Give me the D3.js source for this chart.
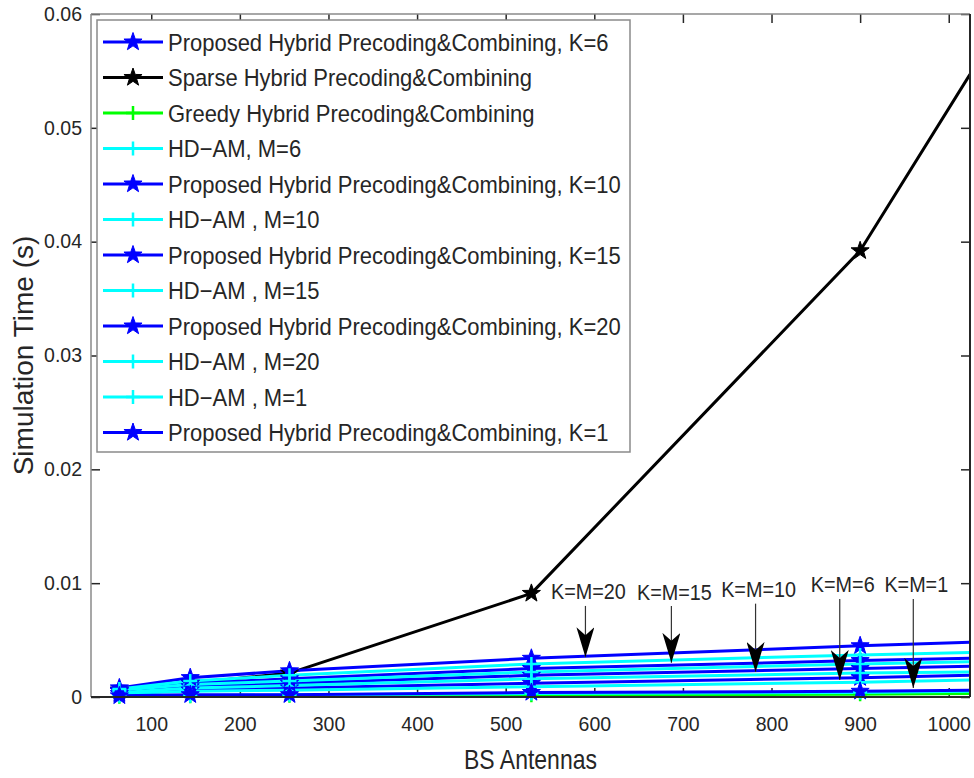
<!DOCTYPE html>
<html>
<head>
<meta charset="utf-8">
<script src="https://cdn.jsdelivr.net/npm/d3@7"></script>
<style>
  body { margin: 0; background: #fff; }
  text { font-family: "Liberation Sans", Arial, Helvetica, sans-serif; fill: #262626; }
</style>
</head>
<body>
<svg id="chart" width="974" height="778"></svg>
<script>
// BS antenna counts (x) and simulation times (s)
const antennas = [64, 144, 256, 529, 900, 1024];

const proposedK6  = [0.0003, 0.0006, 0.0008, 0.0012, 0.0017, 0.0019];
const sparse      = [0.0006, 0.0012, 0.0021, 0.0091, 0.0392, 0.0547];
const greedy      = [0.00003, 0.00006, 0.0001, 0.00015, 0.00025, 0.0003];
const hdamM6      = [0.0003, 0.0005, 0.0006, 0.0009, 0.0013, 0.0015];
const proposedK10 = [0.0005, 0.0009, 0.0012, 0.0019, 0.0025, 0.0027];
const hdamM10     = [0.0004, 0.0008, 0.0010, 0.0016, 0.0021, 0.0022];
const proposedK15 = [0.0006, 0.0012, 0.0016, 0.0025, 0.0032, 0.0034];
const hdamM15     = [0.0006, 0.0011, 0.0014, 0.0022, 0.0029, 0.0031];
const proposedK20 = [0.0008, 0.0017, 0.0023, 0.0034, 0.0045, 0.0048];
const hdamM20     = [0.0007, 0.0014, 0.0019, 0.0029, 0.0037, 0.0039];
const hdamM1      = [0.0001, 0.0001, 0.0002, 0.0003, 0.0004, 0.0005];
const proposedK1  = [0.0001, 0.0002, 0.0002, 0.0004, 0.0005, 0.0006];

const xTicks = [100, 200, 300, 400, 500, 600, 700, 800, 900, 1000];
const yTicks = [0, 0.01, 0.02, 0.03, 0.04, 0.05, 0.06];

// annotations: label, arrow x, arrow tip y (data units)
const noteLabels = ["K=M=20", "K=M=15", "K=M=10", "K=M=6", "K=M=1"];
const noteX      = [590, 687, 782, 877, 960];
const noteTip    = [0.0035, 0.0030, 0.0022, 0.0015, 0.0008];
const noteTop    = [0.0080, 0.0080, 0.0082, 0.0086, 0.0086];
const noteText   = [0.0086, 0.0085, 0.0088, 0.0092, 0.0092];

const BLUE = "#0000ff", CYAN = "#00ffff", GREEN = "#00ff00", BLACK = "#000000";

const series = [
  { name: "Proposed Hybrid Precoding&Combining, K=6",  values: proposedK6,  color: BLUE,  marker: "star" },
  { name: "Sparse Hybrid Precoding&Combining",         values: sparse,      color: BLACK, marker: "star" },
  { name: "Greedy Hybrid Precoding&Combining",         values: greedy,      color: GREEN, marker: "plus" },
  { name: "HD\u2212AM, M=6",                           values: hdamM6,      color: CYAN,  marker: "plus" },
  { name: "Proposed Hybrid Precoding&Combining, K=10", values: proposedK10, color: BLUE,  marker: "star" },
  { name: "HD\u2212AM , M=10",                         values: hdamM10,     color: CYAN,  marker: "plus" },
  { name: "Proposed Hybrid Precoding&Combining, K=15", values: proposedK15, color: BLUE,  marker: "star" },
  { name: "HD\u2212AM , M=15",                         values: hdamM15,     color: CYAN,  marker: "plus" },
  { name: "Proposed Hybrid Precoding&Combining, K=20", values: proposedK20, color: BLUE,  marker: "star" },
  { name: "HD\u2212AM , M=20",                         values: hdamM20,     color: CYAN,  marker: "plus" },
  { name: "HD\u2212AM , M=1",                          values: hdamM1,      color: CYAN,  marker: "plus" },
  { name: "Proposed Hybrid Precoding&Combining, K=1",  values: proposedK1,  color: BLUE,  marker: "star" }
];

const pLeft = 91, pRight = 970, pTop = 14, pBottom = 697;

const svg = d3.select("#chart");

const x = d3.scaleLinear().domain([32, 1024]).range([pLeft, pRight]);
const y = d3.scaleLinear().domain([0, 0.06]).range([pBottom, pTop]);

function starPath(r) {
  const ri = r * 0.4;
  const pts = d3.range(10).map(i => {
    const a = -Math.PI / 2 + i * Math.PI / 5;
    const rr = i % 2 === 0 ? r : ri;
    return [rr * Math.cos(a), rr * Math.sin(a)];
  });
  return "M" + pts.map(p => p.join(",")).join("L") + "Z";
}

function drawMarker(g, type, color) {
  if (type === "star") {
    g.append("path").attr("d", starPath(9.5))
      .attr("fill", color).attr("stroke", color).attr("stroke-width", 1);
  } else {
    g.append("path").attr("d", "M-7,0H7M0,-7V7")
      .attr("stroke", color).attr("stroke-width", 2.5).attr("fill", "none");
  }
}

// text slightly taller than wide, like the exported figure
function tallText(parent, tx, ty, str, size, stretch) {
  return parent.append("text")
    .attr("transform", `translate(${tx},${ty}) scale(1,${stretch})`)
    .style("font-size", size + "px")
    .text(str);
}

const defs = svg.append("defs");
defs.append("clipPath").attr("id", "plotClip")
  .append("rect").attr("x", pLeft).attr("y", pTop)
  .attr("width", pRight - pLeft).attr("height", pBottom - pTop);

// axes (inward ticks, box on)
const tickLen = 9;
const gx = svg.append("g").attr("transform", `translate(0,${pBottom})`)
  .call(d3.axisBottom(x).tickValues(xTicks).tickSize(-tickLen).tickPadding(20).tickFormat(d3.format("d")));
const gxTop = svg.append("g").attr("transform", `translate(0,${pTop})`)
  .call(d3.axisTop(x).tickValues(xTicks).tickSize(-tickLen).tickFormat(""));
const gy = svg.append("g").attr("transform", `translate(${pLeft},0)`)
  .call(d3.axisLeft(y).tickValues(yTicks).tickSize(-tickLen).tickPadding(9).tickFormat(d => d === 0 ? "0" : d3.format(".2f")(d)));
const gyRight = svg.append("g").attr("transform", `translate(${pRight},0)`)
  .call(d3.axisRight(y).tickValues(yTicks).tickSize(-tickLen).tickFormat(""));

[gx, gxTop, gy, gyRight].forEach(g => {
  g.select(".domain").remove();
  g.selectAll(".tick line").attr("stroke", "#262626").attr("stroke-width", 1.5);
  g.selectAll("text").style("font-size", "19.5px").attr("fill", "#262626");
});

// data lines
const plot = svg.append("g").attr("clip-path", "url(#plotClip)");
const line = d3.line().x((d, i) => x(antennas[i])).y(d => y(d));

series.forEach(s => {
  plot.append("path").datum(s.values)
    .attr("d", line).attr("fill", "none")
    .attr("stroke", s.color).attr("stroke-width", 3)
    .attr("stroke-linejoin", "round");
});

// markers on all points inside the axis range
series.forEach(s => {
  s.values.forEach((v, i) => {
    if (antennas[i] >= x.domain()[1]) return;
    const g = svg.append("g").attr("transform", `translate(${x(antennas[i])},${y(v)})`);
    drawMarker(g, s.marker, s.color);
  });
});

// spines
svg.append("line").attr("x1", pLeft).attr("x2", pLeft).attr("y1", pTop).attr("y2", pBottom)
  .attr("stroke", "#8a8a8a").attr("stroke-width", 1.5);
svg.append("line").attr("x1", pLeft).attr("x2", pRight).attr("y1", pTop).attr("y2", pTop)
  .attr("stroke", "#8a8a8a").attr("stroke-width", 1.5);
svg.append("line").attr("x1", pRight).attr("x2", pRight).attr("y1", pTop).attr("y2", pBottom)
  .attr("stroke", "#262626").attr("stroke-width", 2);
svg.append("line").attr("x1", pLeft).attr("x2", pRight).attr("y1", pBottom).attr("y2", pBottom)
  .attr("stroke", "#262626").attr("stroke-width", 2);

// annotations
defs.append("marker").attr("id", "arrowHead")
  .attr("viewBox", "0 0 30 18").attr("refX", 30).attr("refY", 9)
  .attr("markerWidth", 30).attr("markerHeight", 18).attr("markerUnits", "userSpaceOnUse")
  .attr("orient", "auto")
  .append("path").attr("d", "M0,0L30,9L0,18L8,9Z").attr("fill", "#000");

noteLabels.forEach((lab, i) => {
  svg.append("line")
    .attr("x1", x(noteX[i])).attr("x2", x(noteX[i]))
    .attr("y1", y(noteTop[i])).attr("y2", y(noteTip[i]))
    .attr("stroke", "#333").attr("stroke-width", 1.2)
    .attr("marker-end", "url(#arrowHead)");
  tallText(svg, x(noteX[i]) + 3, y(noteText[i]), lab, 19.8, 1.1)
    .attr("text-anchor", "middle").attr("fill", "#000");
});

// axis titles
tallText(svg, (pLeft + pRight) / 2, 769, "BS Antennas", 23, 1.2)
  .attr("text-anchor", "middle");
svg.append("text")
  .attr("transform", `translate(33,${(pTop + pBottom) / 2}) rotate(-90)`)
  .attr("text-anchor", "middle").style("font-size", "28px").text("Simulation Time (s)");

// legend
const lg = svg.append("g");
const lgX = 97, lgY = 20, lgW = 533, rowH = 35.5;
lg.append("rect").attr("x", lgX).attr("y", lgY).attr("width", lgW).attr("height", rowH * series.length + 6)
  .attr("fill", "#fff").attr("stroke", "#8a8a8a").attr("stroke-width", 1.5);

series.forEach((s, i) => {
  const cy = lgY + 22 + i * rowH;
  lg.append("line").attr("x1", lgX + 6).attr("x2", lgX + 66).attr("y1", cy).attr("y2", cy)
    .attr("stroke", s.color).attr("stroke-width", 3);
  const m = lg.append("g").attr("transform", `translate(${lgX + 36},${cy})`);
  drawMarker(m, s.marker, s.color);
  tallText(lg, lgX + 71, cy + 8.5, s.name, 22, 1.08).attr("fill", "#000");
});
</script>
</body>
</html>
